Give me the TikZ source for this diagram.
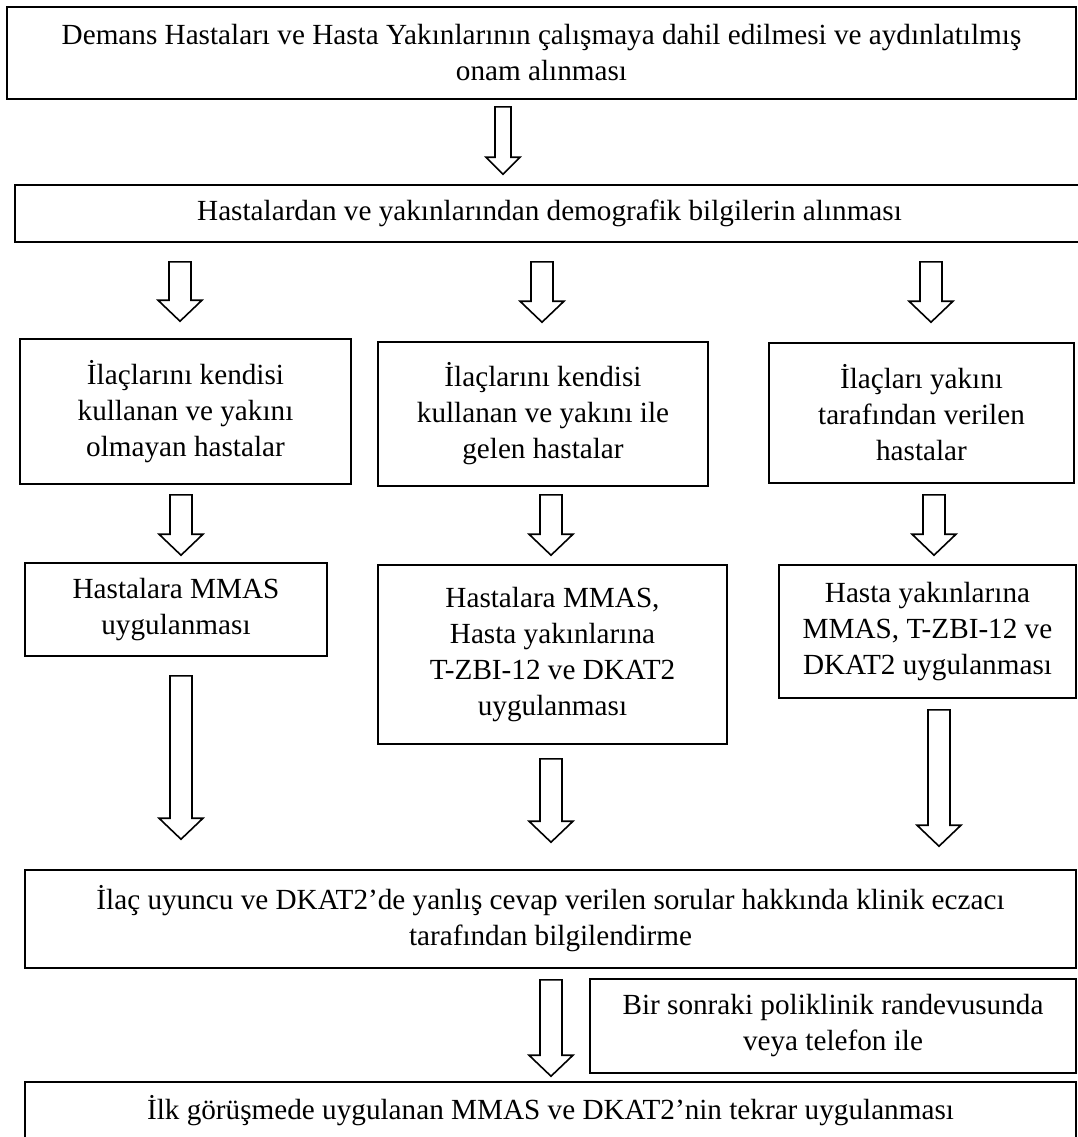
\documentclass[tikz,border=0pt]{standalone}
\usepackage{fontspec}
\setmainfont{Liberation Serif}
\usetikzlibrary{calc}
\newcommand\boxfont{\fontsize{14.6}{18}\selectfont}
\def\arrshaft{5.5pt}
\def\arrhead{11pt}
\def\arrlen{10.5pt}
\tikzset{
  box/.style={draw, line width=0.8pt, inner sep=0pt, align=center, font=\boxfont},
  sized/.style 2 args={minimum width=#1*0.5pt, minimum height=#2*0.5pt},
  thinarrow/.code={\def\arrshaft{4pt}\def\arrhead{8.5pt}\def\arrlen{8.5pt}},
  blockarrow/.style 2 args={draw, line width=0.8pt,
    to path={let \p1=(\tikztostart), \p2=(\tikztotarget) in
      (\x1-\arrshaft,\y1-#1) -- (\x1+\arrshaft,\y1-#1)
      -- (\x1+\arrshaft,\y2+#2+\arrlen) -- (\x1+\arrhead,\y2+#2+\arrlen)
      -- (\x1,\y2+#2) -- (\x1-\arrhead,\y2+#2+\arrlen)
      -- (\x1-\arrshaft,\y2+#2+\arrlen) -- cycle}},
}
\begin{document}
\begin{tikzpicture}[x=0.5pt,y=-0.5pt]
  \useasboundingbox (0,0) rectangle (1078,1137);

  % --- boxes ---
  \node[box, sized={1069}{92}] (top) at (541.5,53)
    {Demans Hastaları ve Hasta Yakınlarının çalışmaya dahil edilmesi ve aydınlatılmış\\onam alınması};
  \node[box, sized={1069}{57}] (demo) at (549.5,213.5)
    {Hastalardan ve yakınlarından demografik bilgilerin alınması};

  \node[box, sized={331}{145}] (boxL) at (185.5,411.5)
    {İlaçlarını kendisi\\kullanan ve yakını\\olmayan hastalar};
  \node[box, sized={330}{144}] (boxM) at (543,414)
    {İlaçlarını kendisi\\kullanan ve yakını ile\\gelen hastalar};
  \node[box, sized={305}{140}] (boxR) at (921.5,413)
    {İlaçları yakını\\tarafından verilen\\hastalar};

  \node[box, sized={302}{93}] (mmasL) at (176,609.5)
    {Hastalara MMAS\\uygulanması};
  \node[box, sized={349}{179}] (mmasM) at (552.5,654.5)
    {Hastalara MMAS,\\Hasta yakınlarına\\T-ZBI-12 ve DKAT2\\uygulanması};
  \node[box, sized={297}{133}] (mmasR) at (927.5,631.5)
    {Hasta yakınlarına\\MMAS, T-ZBI-12 ve\\DKAT2 uygulanması};

  \node[box, sized={1051}{98}] (inform) at (550.5,919)
    {İlaç uyuncu ve DKAT2’de yanlış cevap verilen sorular hakkında klinik eczacı\\tarafından bilgilendirme};
  \node[box, sized={486}{94}] (later) at (833,1026)
    {Bir sonraki poliklinik randevusunda\\veya telefon ile};
  \node[box, sized={1051}{58}] (repeat) at (550.5,1111)
    {İlk görüşmede uygulanan MMAS ve DKAT2’nin tekrar uygulanması};

  % --- block arrows ---
  \draw[blockarrow={3.5pt}{5pt}, thinarrow] (503,0 |- top.south) to (503,0 |- demo.north);

  \draw[blockarrow={9.5pt}{8.5pt}] (180,0 |- demo.south) to (180,0 |- boxL.north);
  \draw[blockarrow={9.5pt}{9.5pt}] (542,0 |- demo.south) to (542,0 |- boxM.north);
  \draw[blockarrow={9.5pt}{10pt}] (931,0 |- demo.south) to (931,0 |- boxR.north);

  \draw[blockarrow={5pt}{3.5pt}] (181,0 |- boxL.south) to (181,0 |- mmasL.north);
  \draw[blockarrow={4pt}{4.5pt}] (551,0 |- boxM.south) to (551,0 |- mmasM.north);
  \draw[blockarrow={5.5pt}{4.5pt}] (934,0 |- boxR.south) to (934,0 |- mmasR.north);

  \draw[blockarrow={9.5pt}{15pt}] (181,0 |- mmasL.south) to (181,0 |- inform.north);
  \draw[blockarrow={7pt}{13.5pt}] (551,0 |- mmasM.south) to (551,0 |- inform.north);
  \draw[blockarrow={5.5pt}{11.5pt}] (939,0 |- mmasR.south) to (939,0 |- inform.north);

  \draw[blockarrow={5.5pt}{2.5pt}] (551,0 |- inform.south) to (551,0 |- repeat.north);

\end{tikzpicture}
\end{document}
